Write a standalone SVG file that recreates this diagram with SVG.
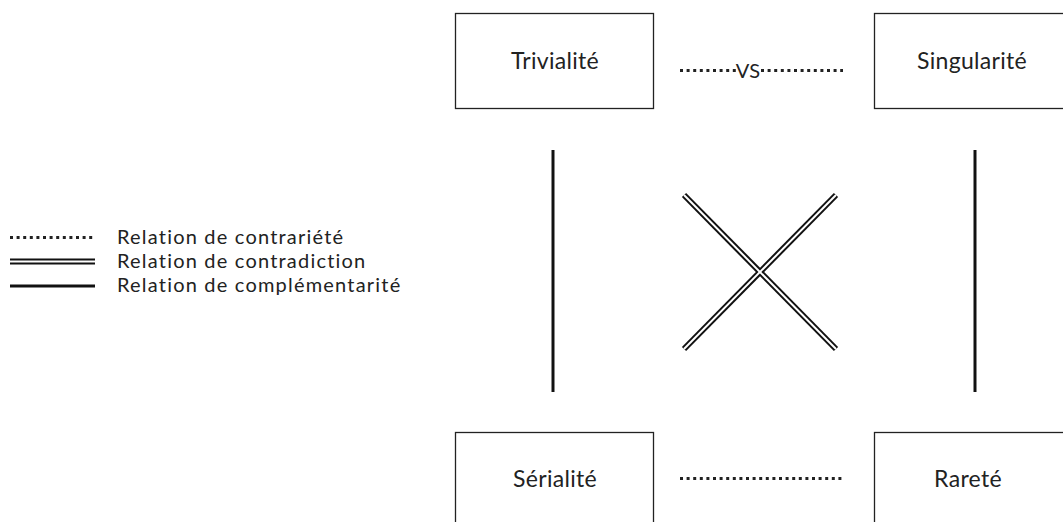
<svg xmlns="http://www.w3.org/2000/svg" width="1063" height="522" viewBox="0 0 1063 522">
<style>
.box{fill:#fff;stroke:#222;stroke-width:1.3}
.lbl{font-family:Lato,"Open Sans","Liberation Sans",sans-serif;font-size:23px;letter-spacing:0.3px;fill:#222;text-anchor:middle}
.leg{font-family:Lato,"Open Sans","Liberation Sans",sans-serif;font-size:20px;letter-spacing:1.2px;fill:#222}
.dot{stroke:#222;stroke-width:3;stroke-dasharray:3 3.6;fill:none}
.solid{stroke:#111;stroke-width:3;fill:none}
.dblo{stroke:#111;stroke-width:6;fill:none}
.dbli{stroke:#fff;stroke-width:2;fill:none}
</style>
<rect width="1063" height="522" fill="#fff"/>
<g id="connectors">
<line class="dot" x1="680" y1="70.5" x2="736" y2="70.5"/>
<text class="lbl" x="748" y="78" style="font-size:20px">VS</text>
<line class="dot" x1="761" y1="70.5" x2="843" y2="70.5"/>
<line class="dot" x1="680" y1="478.5" x2="843" y2="478.5"/>
<line class="solid" x1="553" y1="150" x2="553" y2="392"/>
<line class="solid" x1="975" y1="150" x2="975" y2="392"/>
<line class="dblo" x1="684" y1="195" x2="836" y2="349"/>
<line class="dblo" x1="836" y1="195" x2="684" y2="349"/>
<line class="dbli" x1="684" y1="195" x2="836" y2="349"/>
<line class="dbli" x1="836" y1="195" x2="684" y2="349"/>
</g>
<g id="trivialite">
<rect class="box" x="455.5" y="13.5" width="198" height="95"/>
<text class="lbl" x="555" y="69">Trivialité</text>
</g>
<g id="singularite">
<rect class="box" x="874.5" y="13.5" width="190" height="95"/>
<text class="lbl" x="972" y="69">Singularité</text>
</g>
<g id="serialite">
<rect class="box" x="455.5" y="432.5" width="198" height="95"/>
<text class="lbl" x="555" y="487">Sérialité</text>
</g>
<g id="rarete">
<rect class="box" x="874.5" y="432.5" width="190" height="95"/>
<text class="lbl" x="968" y="487">Rareté</text>
</g>
<g id="legend">
<line class="dot" x1="10" y1="237.5" x2="95" y2="237.5"/>
<text class="leg" x="117" y="244">Relation de contrariété</text>
<line class="dblo" x1="10" y1="261.5" x2="95" y2="261.5"/>
<line class="dbli" x1="10" y1="261.5" x2="95" y2="261.5"/>
<text class="leg" x="117" y="268">Relation de contradiction</text>
<line class="solid" x1="10" y1="286" x2="95" y2="286"/>
<text class="leg" x="117" y="292">Relation de complémentarité</text>
</g>
</svg>
